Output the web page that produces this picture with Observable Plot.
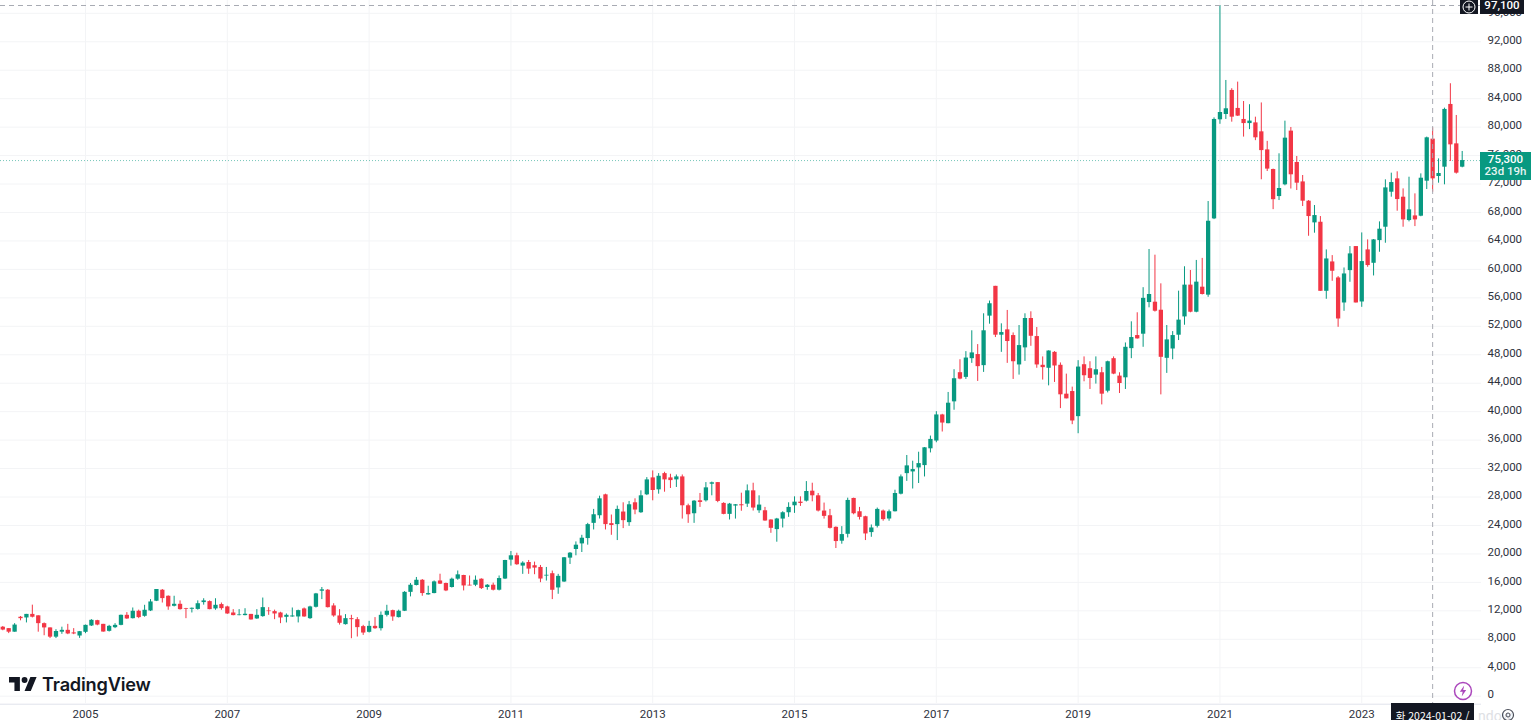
<!DOCTYPE html>
<html lang="ko">
<head>
<meta charset="utf-8">
<script src="https://cdn.jsdelivr.net/npm/d3@7"></script>
<script src="https://cdn.jsdelivr.net/npm/@observablehq/plot@0.6"></script>
<style>
html,body{margin:0;padding:0;background:#fff;overflow:hidden}
#wrap{position:relative;width:1532px;height:720px;overflow:hidden;font-family:Roboto,sans-serif}
.tag{position:absolute;color:#fff;box-sizing:border-box;text-align:center;white-space:nowrap}
svg{display:block}
</style>
</head>
<body>
<div id="wrap"></div>
<script>
const startYear = 2003, startMonth = 10; // Nov 2003, first monthly candle
const opens = [
 9700,9500,
 9000,11100,11000,11500,11300,10200,9600,8300,9000,9260,8900,8460,
 8980,9870,10620,10100,9120,9630,9960,11370,10900,11940,11230,11980,
 13350,14900,14050,12640,12920,12300,12220,12200,13160,13300,12270,12880,
 12550,11700,11330,11330,11500,10860,11190,11980,11890,11700,11090,11140,
 11140,12270,10900,12500,14760,14900,12690,11280,10060,10900,10760,9780,
 8980,9820,9490,11370,12030,11050,11940,14600,15560,16300,14240,14430,
 16200,15840,15280,16450,16970,15600,15600,16450,15280,15600,14900,16470,
 19130,19740,18290,18800,18340,18100,16890,17220,15220,16050,19410,20620,
 21410,22160,24300,25370,28310,24260,24120,25890,24400,27190,25790,28310,
 30690,29010,31290,30690,30410,30830,26770,25650,27470,27470,29800,30030,
 27100,25560,26730,26910,27000,28870,26070,26070,24770,23420,24900,25790,
 26770,27280,27420,28820,28170,26030,25370,23740,21790,22760,27800,25930,
 25230,23000,23880,26030,24910,25930,28400,31290,31530,32090,32420,34780,
 35870,39540,38310,41380,45480,44820,47450,48030,46470,53430,57620,50750,
 51500,50700,46570,48970,53100,50560,46520,46100,48340,46520,42460,42830,
 39300,46600,46040,45140,45470,42880,47450,45000,44760,48860,50700,50890,
 55340,55390,54260,47500,48810,50750,53320,57790,53980,57500,56380,67100,
 81030,81780,85160,82630,81080,80500,80600,79340,76800,74040,70240,71890,
 79440,75030,72300,69590,66540,66630,56920,61050,58800,55280,59830,63210,
 55420,62740,60860,64050,65930,70850,72730,70150,66870,67520,67480,72400,
 78310,73060,74370,83190,77650,74370];
const highs = [
 9800,9500,
 10200,11200,11500,12800,11300,10300,9600,9350,9700,10100,9500,9100,
 10000,10760,10670,10100,9960,10200,11400,11750,12400,12100,12780,13580,
 15000,15000,14100,14050,13400,12350,12400,13400,13700,13400,13700,13100,
 12650,12170,12170,12300,11500,12170,13800,12450,12100,11800,11560,12400,
 12100,12400,12650,14450,15280,15000,13000,12170,11470,11370,11050,9960,
 10530,11050,11840,12780,12100,12100,14700,15840,16690,16400,15460,16200,
 17150,15900,16600,17600,17000,16900,16900,16500,15700,15900,16900,19100,
 20340,20100,18900,19080,18850,18380,18100,17590,17130,19500,20200,21690,
 22620,24300,26260,28120,28400,25470,26730,27190,27380,27750,28870,30730,
 31670,31290,31480,31200,31100,31100,27000,27500,28500,30030,30100,30030,
 27200,27100,26950,28540,29700,29940,28170,26540,24800,25000,25930,27190,
 28030,28030,30170,29940,28500,27150,26260,23800,23840,27840,27840,26540,
 25300,24070,26450,26170,26170,28960,31100,33840,33040,34300,34950,36570,
 40000,39630,42700,45900,47300,48440,51370,49430,53760,55550,57620,52350,
 54230,51070,52110,53760,54040,51830,47700,48550,48440,46850,45280,43450,
 47170,47700,47020,47700,46220,47100,47700,45470,49660,52630,53900,57430,
 62800,62000,57970,52110,51260,56940,60370,59850,61260,61550,69540,81300,
 97100,86560,85400,86330,83600,83150,81400,83400,78000,74100,76250,80840,
 79950,75870,73200,69680,68980,67430,62740,61940,58990,60200,63210,63210,
 65130,64150,64200,66680,72590,73530,73720,71320,72960,70620,73430,78600,
 79900,75540,82670,86100,81640,76580];
const lows = [
 9200,8800,
 9000,10600,10300,11000,9000,8500,8100,8100,8700,8650,8650,8130,
 8790,9800,9900,9000,9020,9500,9900,10800,10860,10900,11100,11900,
 13300,13100,12080,12550,12100,10900,11700,12100,12800,12150,12080,12080,
 11500,11300,11300,11300,10700,10800,11100,11370,10760,10200,10300,11100,
 10300,11100,10800,12400,13580,12400,11100,10000,10000,8080,8320,8550,
 8880,9400,9160,11140,10530,11000,11900,13960,15500,14050,14200,14400,
 15700,14700,15200,16300,14800,15500,15400,15000,14900,14800,14800,16400,
 18290,18400,17130,17130,17080,15960,16190,13580,14330,16000,18520,19740,
 20200,21230,23370,24910,23370,22620,21880,23560,23880,25510,25700,28200,
 27470,28400,28680,29200,29340,24900,24300,24300,26540,27300,28170,27200,
 25500,24770,24900,26000,26540,26030,25700,24600,22900,21650,23650,25140,
 25700,26680,27300,27330,25900,24900,23500,20760,21370,22250,25500,24770,
 21880,22340,23650,24600,24600,25900,28300,30200,29130,29900,30820,34200,
 35630,37140,38300,40200,44480,44530,46790,44250,45520,52300,50420,48340,
 46790,44530,45140,47070,49190,46100,44440,43630,44110,40430,41800,38170,
 36900,44200,43120,43880,40950,42640,45200,42550,43120,47450,50200,49050,
 54600,54000,42360,45380,47300,50000,52150,53900,53900,56400,56080,67000,
 80400,81080,80700,81500,78600,79650,78100,72600,73760,68400,69680,71750,
 71300,71090,68840,64660,65090,56900,55800,58330,51860,54110,58190,55280,
 54670,60300,59080,62410,63680,70150,68180,65930,66680,66020,67400,71230,
 70850,72120,71890,75170,73400,74280];
const closes = [
 9300,9000,
 10000,10900,11500,11100,10200,9600,8300,9100,9260,8750,8750,9070,
 9960,10670,10000,9020,9820,9960,11370,10860,11940,11050,12080,13250,
 15000,13720,12550,12920,12170,12200,12360,13000,13400,12170,12780,12310,
 11560,11330,11420,11520,10720,11370,12450,11890,11560,11000,11370,11280,
 12030,11140,12550,14380,14950,12450,11280,10250,10900,10760,9640,8880,
 9820,9490,11370,11940,11140,11940,14600,15600,16300,14430,14430,16070,
 15750,14800,16450,17060,15500,15500,16300,15130,15600,14900,16540,19080,
 19740,18480,18710,17870,18010,16470,17000,14890,16850,19460,20110,21230,
 22210,24120,25510,27750,24120,24000,26260,24680,26910,26170,28170,30410,
 28920,30920,30410,30310,30830,26770,25510,27420,27240,29290,30000,27380,
 25560,27000,26910,26770,28870,26450,26870,24630,23600,24910,25790,26540,
 27280,27100,28780,28170,26030,25280,23600,21740,22720,27520,25650,25140,
 22810,23650,26260,24820,25930,28500,30830,32380,31860,32700,34920,36100,
 39540,38400,41190,44630,44580,47540,48260,46330,51370,55170,50750,51120,
 49860,47020,49290,53100,50600,46570,46190,48530,46420,42370,41800,38690,
 46270,45050,44670,45890,42460,47020,45280,43960,49050,50420,50230,55930,
 56470,54120,47640,50090,50700,52870,57790,53980,58210,56470,66770,81080,
 82060,82580,81400,81550,80500,80850,78500,76700,74100,69800,71370,78450,
 73300,72120,69590,67430,67570,56920,61470,59740,53030,59360,62180,55280,
 61100,60540,64150,65650,71460,72210,69820,66960,68370,66960,72820,78500,
 72730,73480,82490,77510,73530,75300];
const yearTicks = [2005,2007,2009,2011,2013,2015,2017,2019,2021,2023];
const priceTicks = [0,4000,8000,12000,16000,20000,24000,28000,32000,36000,40000,44000,48000,52000,56000,60000,64000,68000,72000,76000,80000,84000,88000,92000,96000];
const crossPrice = 97100, crossTime = 2024, lastPrice = 75300;
const countdown = "23d 19h";
const crossLabel = "화 2024-01-02 /";
const xDomain = [2003.801, 2024.689];

const candles = opens.map((o,i)=>({t:startYear+(startMonth+i)/12,o,h:highs[i],l:lows[i],c:closes[i]}));
const up = "#089981", down = "#F23645", grid = "#f3f4f6";
const col = d => d.c >= d.o ? up : down;

const chart = Plot.plot({
  width:1532, height:720,
  marginLeft:0, marginRight:51, marginTop:0, marginBottom:17,
  style:{fontFamily:"Roboto, sans-serif", background:"#fff", color:"#2e323d"},
  x:{type:"linear", domain:xDomain},
  y:{type:"linear", domain:[0,crossPrice], range:[695.7,5]},
  marks:[
    Plot.ruleY(priceTicks,{stroke:grid,strokeWidth:1}),
    Plot.ruleX(yearTicks,{stroke:grid,strokeWidth:1}),
    Plot.ruleY([lastPrice],{stroke:up,strokeDasharray:"1 2",strokeOpacity:.55}),
    Plot.ruleX(candles,{x:"t",y1:"l",y2:"h",stroke:col,strokeWidth:1}),
    Plot.ruleX(candles,{x:"t",y1:"o",y2:"c",stroke:col,strokeWidth:4.3}),
    Plot.ruleY([crossPrice],{stroke:"#a8abb3",strokeDasharray:"5 4"}),
    Plot.ruleX([crossTime],{stroke:"#a8abb3",strokeDasharray:"5 4"}),
    Plot.axisX({anchor:"bottom",ticks:yearTicks,tickSize:0,tickPadding:6,fontSize:11.5,label:null,tickFormat:d=>String(d)}),
    Plot.axisY({anchor:"right",ticks:priceTicks,tickSize:0,tickPadding:6,dy:-1.5,fontSize:11.5,label:null,tickFormat:d3.format(",")}),
    Plot.ruleY([0],{dy:8,stroke:"#e0e3eb"})
  ]
});
const wrap = document.getElementById("wrap");
wrap.appendChild(chart);
const py = v => chart.scale("y").apply(v), px = v => chart.scale("x").apply(v);

function tag(html,style){const d=document.createElement("div");d.className="tag";d.innerHTML=html;Object.assign(d.style,style);wrap.appendChild(d);return d;}
const cy = py(crossPrice), ly = py(lastPrice), cx = px(crossTime);
// crosshair price button and label
tag(`<svg width="14" height="14" viewBox="0 0 14 14" style="display:block;margin:0 auto"><circle cx="7" cy="7" r="6" fill="none" stroke="#fff" stroke-width="1"/><path d="M7 3.5v7M3.5 7h7" stroke="#fff" stroke-width="1"/></svg>`,
  {left:"1460px",top:"0px",width:"18px",height:"14px",background:"#131722"});
tag(d3.format(",")(crossPrice),{left:"1480px",top:`${cy-9}px`,width:"44px",height:"18px",lineHeight:"18px",background:"#131722",fontSize:"11.5px",fontWeight:"500"});
// last price tag
tag(`<div style="line-height:12px;padding-top:1px">${d3.format(",")(lastPrice)}</div><div style="line-height:12px;opacity:.9">${countdown}</div>`,
  {left:"1480px",top:`${ly-8.5}px`,width:"51px",height:"28px",background:up,fontSize:"11.5px",fontWeight:"500"});
// time label
tag(crossLabel,{left:"1391px",top:"703px",width:"83px",height:"17px",lineHeight:"26px",background:"#131722",fontSize:"10.5px",fontFamily:"'Noto Sans CJK KR',Roboto,sans-serif"});
// faint fragment and settings icon
tag("ndow",{left:"1478px",top:"708px",color:"#c9ccd3",fontSize:"14px",opacity:".6"});
tag(`<svg width="14" height="14" viewBox="0 0 14 14"><circle cx="7" cy="7" r="5.5" fill="none" stroke="#4a4e5a" stroke-width="1.2"/><circle cx="7" cy="7" r="2" fill="none" stroke="#4a4e5a" stroke-width="1"/></svg>`,{left:"1501px",top:"708px",width:"14px",height:"14px"});
// lightning button
tag(`<svg width="20" height="20" viewBox="0 0 20 20"><circle cx="10" cy="10" r="8.5" fill="#fff" stroke="#ab47bc" stroke-width="1.5"/><path d="M11.2 4.5 6.8 10.8h2.9l-1 4.7 4.5-6.4h-3z" fill="#ab47bc"/></svg>`,
  {left:"1452.5px",top:"681px",width:"20px",height:"20px"});
// TradingView mark
tag(`<svg width="28" height="14" viewBox="0 0 36 18" style="display:block"><path d="M14 18H7V7H0V0h14zM28 18h-8L27.5 0h8z" fill="#131722"/><circle cx="20" cy="3.8" r="3.8" fill="#131722"/></svg>`,
  {left:"8.5px",top:"677px",width:"28px",height:"14px"});
tag("TradingView",{left:"42px",top:"672px",color:"#131722",fontFamily:"Inter,sans-serif",fontSize:"18.2px",fontWeight:"600",lineHeight:"24px",letterSpacing:"-.2px"});
</script>
</body>
</html>
